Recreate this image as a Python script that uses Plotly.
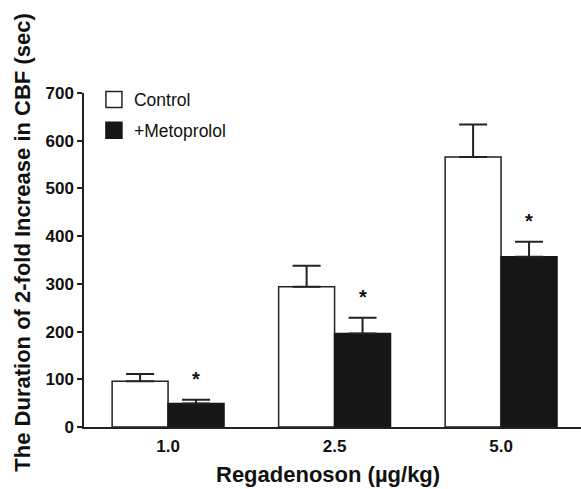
import plotly.graph_objects as go

# Regadenoson dose groups
doses = ["1.0", "2.5", "5.0"]

# Duration of 2-fold increase in CBF (sec): mean and upper SE
control_mean = [96, 294, 566]
control_err = [15, 44, 68]
metoprolol_mean = [49, 196, 357]
metoprolol_err = [8, 33, 31]

# significance vs control
metoprolol_sig = [True, True, True]

y_ticks = [0, 100, 200, 300, 400, 500, 600, 700]

FONT = "Liberation Sans, Arial, Helvetica, sans-serif"
EDGE = "#222222"
DARK = "#161616"
BARGAP = 0.328

fig = go.Figure()

fig.add_trace(go.Bar(
    x=doses, y=control_mean, name="Control",
    marker=dict(color="white", line=dict(color=EDGE, width=1.5)),
    error_y=dict(type="data", array=control_err,
                 arrayminus=[0] * len(control_err), symmetric=False,
                 color=EDGE, thickness=2, width=14),
    showlegend=False,
))
fig.add_trace(go.Bar(
    x=doses, y=metoprolol_mean, name="+Metoprolol",
    marker=dict(color=DARK, line=dict(color=DARK, width=1.5)),
    error_y=dict(type="data", array=metoprolol_err,
                 arrayminus=[0] * len(metoprolol_err), symmetric=False,
                 color=EDGE, thickness=2, width=14),
    showlegend=False,
))

# legend swatches
fig.add_trace(go.Scatter(
    x=[None], y=[None], mode="markers", name="Control", legendgroup="a",
    marker=dict(symbol="square", size=16, color="white",
                line=dict(color=EDGE, width=1.5)),
))
fig.add_trace(go.Scatter(
    x=[None], y=[None], mode="markers", name="+Metoprolol", legendgroup="b",
    marker=dict(symbol="square", size=16, color=DARK,
                line=dict(color=DARK, width=1.5)),
))

# asterisks above the metoprolol error bars
bar_w = (1 - BARGAP) / 2
for i, (d, m, e, s) in enumerate(zip(doses, metoprolol_mean, metoprolol_err, metoprolol_sig)):
    if s:
        fig.add_annotation(
            x=i + bar_w / 2, y=m + e, xref="x", yref="y",
            text="*", showarrow=False, yanchor="bottom", yshift=8,
            font=dict(family=FONT, size=20, color="#111111", weight="bold"),
        )

# axis titles
fig.add_annotation(
    x=0.491, y=-0.1437, xref="paper", yref="paper",
    text="<b>Regadenoson (µg/kg)</b>", showarrow=False,
    xanchor="center", yanchor="middle",
    font=dict(family=FONT, size=22, color="#111111"),
)
fig.add_annotation(
    x=-0.1227, y=0.552, xref="paper", yref="paper",
    text="<b>The Duration of 2-fold Increase in CBF (sec)</b>", showarrow=False,
    textangle=-90, xanchor="center", yanchor="middle",
    font=dict(family=FONT, size=22, color="#111111"),
)

fig.update_layout(
    width=581, height=489,
    margin=dict(l=84, r=0, t=93, b=62),
    paper_bgcolor="white", plot_bgcolor="white",
    barmode="group", bargap=BARGAP, bargroupgap=0,
    font=dict(family=FONT, color="#111111"),
    showlegend=True,
    legend=dict(
        x=0.020, y=1.034, xanchor="left", yanchor="top",
        bgcolor="rgba(0,0,0,0)", borderwidth=0,
        font=dict(family=FONT, size=17.5, color="#111111"),
        traceorder="grouped", tracegroupgap=5,
        itemsizing="trace",
    ),
    xaxis=dict(
        type="category", range=[-0.505, 2.48],
        showgrid=False, zeroline=False,
        showline=True, linecolor=EDGE, linewidth=1.5,
        ticks="", ticklabelstandoff=3,
        tickfont=dict(family=FONT, size=17, color="#111111", weight="bold"),
    ),
    yaxis=dict(
        range=[0, 700], tickvals=y_ticks,
        showgrid=False, zeroline=False,
        showline=True, linecolor=EDGE, linewidth=1.5,
        ticks="outside", ticklen=5, tickwidth=1.5, tickcolor=EDGE,
        tickfont=dict(family=FONT, size=17, color="#111111", weight="bold"),
    ),
)

fig.write_html("out.html")
